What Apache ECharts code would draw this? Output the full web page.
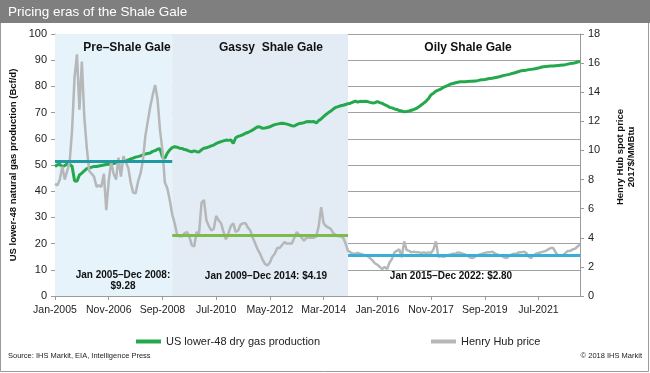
<!DOCTYPE html>
<html><head><meta charset="utf-8">
<script src="https://cdn.jsdelivr.net/npm/echarts@6/dist/echarts.min.js"></script>
<style>html,body{margin:0;padding:0;background:#fff}#c{width:650px;height:373px}</style>
</head><body><div id="c"></div>
<script>
const monthNames = ['Jan','Feb','Mar','Apr','May','Jun','Jul','Aug','Sep','Oct','Nov','Dec'];
const years = [2005,2006,2007,2008,2009,2010,2011,2012,2013,2014,2015,2016,2017,2018,2019,2020,2021,2022];
const categories = [];
years.forEach(y => monthNames.forEach(m => categories.push(m + '-' + y)));

// US lower-48 dry gas production, Bcf/d (monthly, Jan-2005 .. Dec-2022)
const production = [
  49.4,50.1,50.2,49.4,49.8,50.4,50.3,49.5,44.0,43.8,46.2,46.9,
  47.8,48.6,48.8,49.2,49.4,49.4,49.6,49.8,50.0,50.2,50.3,50.5,
  50.6,50.8,51.0,51.2,51.3,51.6,51.9,52.3,52.6,53.0,53.2,53.5,
  53.8,54.2,54.4,54.6,55.2,55.5,56.0,56.2,53.0,52.6,54.5,55.8,
  56.6,57.0,56.8,56.4,56.3,55.9,55.7,55.3,55.0,55.4,55.1,55.0,
  55.8,56.4,56.6,56.9,57.3,57.6,58.2,58.6,58.9,59.2,59.5,59.4,
  59.6,58.2,60.4,60.9,61.2,61.6,62.1,62.4,62.9,63.4,64.0,64.6,
  64.5,64.0,64.1,64.3,64.6,65.0,65.4,65.6,65.8,65.9,65.8,65.6,
  65.3,65.0,64.9,65.4,65.8,65.9,66.2,66.5,66.6,66.5,66.6,66.0,
  67.0,67.6,68.5,69.3,70.0,70.6,71.4,72.0,72.3,72.6,72.8,73.1,
  73.4,73.6,74.0,74.4,74.0,74.3,74.2,74.3,74.2,73.9,73.7,73.8,
  74.2,73.8,73.5,73.0,72.6,72.0,71.8,71.4,71.2,70.8,70.6,70.3,
  70.4,70.6,70.9,71.2,71.6,72.2,72.9,73.6,74.4,75.4,76.8,77.4,
  78.2,78.6,79.0,79.6,80.0,80.4,80.9,81.1,81.4,81.6,81.8,81.8,
  81.8,81.9,82.0,82.0,82.1,82.2,82.4,82.5,82.6,82.8,83.0,83.1,
  83.3,83.5,83.7,84.0,84.2,84.4,84.6,84.9,85.1,85.4,85.7,86.0,
  86.1,86.2,86.4,86.5,86.6,86.8,87.0,87.3,87.5,87.6,87.7,87.8,
  87.8,87.9,88.0,88.1,88.2,88.3,88.5,88.7,88.8,89.0,89.3,89.5
];

// Henry Hub spot price, 2017$/MMBtu
const henryHub = [
  7.7,7.6,8.0,8.9,8.0,8.6,9.2,11.4,15.0,16.6,12.8,16.1,
  12.3,10.2,8.6,8.4,8.2,7.5,7.6,7.5,8.4,5.9,7.9,9.2,
  8.4,8.0,9.5,8.2,9.6,9.2,8.8,7.8,7.1,7.05,7.85,8.4,
  9.3,11.0,12.0,13.0,13.8,14.5,13.5,11.4,10.0,7.8,7.4,6.6,
  5.6,5.0,4.2,4.1,4.1,4.3,4.4,4.1,3.5,3.4,4.4,4.3,
  6.4,6.6,5.2,4.8,4.5,4.6,5.5,5.2,5.0,4.4,3.9,4.3,
  4.8,5.0,4.4,4.5,4.9,5.0,5.0,4.7,4.5,4.0,3.6,3.2,
  2.9,2.5,2.2,2.1,2.3,2.7,2.9,3.3,3.3,3.5,3.7,3.6,
  3.6,3.6,4.0,4.4,4.2,4.0,3.8,4.0,4.0,4.0,4.0,4.1,
  4.8,6.1,5.0,4.8,4.7,4.6,4.3,4.2,4.1,4.1,4.0,3.6,
  3.1,3.0,2.9,2.9,2.95,2.9,2.85,2.8,2.75,2.6,2.45,2.25,
  2.15,2.0,1.85,2.0,1.85,2.3,2.55,3.0,3.1,3.2,2.65,3.75,
  3.15,3.1,3.0,3.05,3.0,3.0,2.95,3.0,2.95,3.0,2.95,3.2,
  3.75,2.7,2.75,2.7,2.75,2.8,2.85,2.9,2.9,3.0,2.95,2.9,
  2.85,2.75,2.65,2.6,2.7,2.8,2.85,2.9,2.95,3.0,3.0,3.05,
  2.95,2.85,2.8,2.75,2.65,2.6,2.75,2.85,2.9,2.9,3.0,3.0,
  3.05,2.95,2.7,2.6,2.8,2.9,2.95,3.0,3.05,3.1,3.2,3.3,
  3.3,3.0,2.8,2.8,2.8,2.95,3.1,3.1,3.2,3.25,3.4,3.55
];

const eraNames = ['Pre\u2013Shale Gale', 'Gassy  Shale Gale', 'Oily Shale Gale'];
const eraStart = ['Jan-2005', 'Jan-2009', 'Jan-2015'];
const eraEnd = ['Jan-2009', 'Jan-2015', 'Dec-2022'];
const eraAvgPrice = [9.28, 4.19, 2.80];
const eraAvgText = ['Jan 2005\u2013Dec 2008:\n$9.28', 'Jan 2009\u2013Dec 2014: $4.19', 'Jan 2015\u2013Dec 2022: $2.80'];
const leftTicks = {min: 0, max: 100, interval: 10};
const rightTicks = {min: 0, max: 18, interval: 2};

const FONT = '"Liberation Sans", Arial, sans-serif';
const eraFill = ['#e6f3fb', '#e3ebf4', 'rgba(0,0,0,0)'];
const avgColors = ['#1f9aa0', '#7dbb4c', '#3aaedb'];

const chart = echarts.init(document.getElementById('c'), null, {renderer: 'canvas'});

const option = {
  animation: false,
  backgroundColor: '#ffffff',
  textStyle: {fontFamily: FONT},
  grid: {left: 55, right: 70, top: 34, bottom: 77, containLabel: false},
  legend: [
    {left: 131, top: 331, icon: 'rect', itemWidth: 25, itemHeight: 4, itemGap: 4,
     textStyle: {fontFamily: FONT, fontSize: 11, color: '#222'}, data: ['US lower-48 dry gas production']},
    {left: 426, top: 331, icon: 'rect', itemWidth: 25, itemHeight: 4, itemGap: 4,
     textStyle: {fontFamily: FONT, fontSize: 11, color: '#222'}, data: ['Henry Hub price']}
  ],
  xAxis: {
    type: 'category', data: categories, boundaryGap: false,
    axisLine: {lineStyle: {color: '#9a9a9a'}},
    axisTick: {interval: 21, length: 4, lineStyle: {color: '#9a9a9a'}},
    axisLabel: {interval: 21, fontFamily: FONT, fontSize: 10.5, color: '#222', margin: 9},
    splitLine: {show: false}
  },
  yAxis: [
    {type: 'value', min: leftTicks.min, max: leftTicks.max, interval: leftTicks.interval,
     axisLine: {show: true, lineStyle: {color: '#9a9a9a'}},
     axisTick: {show: true, length: 4, lineStyle: {color: '#9a9a9a'}},
     axisLabel: {fontFamily: FONT, fontSize: 11, color: '#222', margin: 8},
     splitLine: {show: true, lineStyle: {color: '#a0a0a0', width: 1}}},
    {type: 'value', position: 'right', min: rightTicks.min, max: rightTicks.max, interval: rightTicks.interval,
     axisLine: {show: true, lineStyle: {color: '#9a9a9a'}},
     axisTick: {show: true, length: 4, lineStyle: {color: '#9a9a9a'}},
     axisLabel: {fontFamily: FONT, fontSize: 11, color: '#222', margin: 8},
     splitLine: {show: false}}
  ],
  series: [
    {
      name: 'eras', type: 'line', data: [], z: -5, silent: true,
      markArea: {
        silent: true,
        data: eraStart.map((s, i) => [{xAxis: s, itemStyle: {color: eraFill[i]}}, {xAxis: eraEnd[i]}])
      }
    },
    {
      name: 'US lower-48 dry gas production', type: 'line', yAxisIndex: 0, data: production,
      showSymbol: false, symbol: 'none', color: '#24a84c',
      lineStyle: {width: 3, color: '#24a84c'}, z: 3
    },
    {
      name: 'Henry Hub price', type: 'line', yAxisIndex: 1, data: henryHub,
      showSymbol: false, symbol: 'none', color: '#b5b7b9',
      lineStyle: {width: 2.5, color: '#b5b7b9'}, z: 4,
      markLine: {
        silent: true, symbol: 'none', label: {show: false},
        data: eraAvgPrice.map((v, i) => [
          {coord: [eraStart[i], v], lineStyle: {color: avgColors[i], width: 3, type: 'solid'}},
          {coord: [eraEnd[i], v]}
        ])
      }
    }
  ],
  graphic: [
    {type: 'rect', shape: {x: 0.5, y: 0.5, width: 648, height: 371}, style: {fill: 'none', stroke: '#9a9a9a', lineWidth: 1}, z: 100},
    {type: 'rect', shape: {x: 0, y: 0, width: 650, height: 23}, style: {fill: '#7f7f7f'}, z: 101},
    {type: 'text', x: 8, y: 12, style: {text: 'Pricing eras of the Shale Gale', fill: '#ffffff', font: '13.5px ' + FONT, textVerticalAlign: 'middle'}, z: 102},
    {type: 'text', x: 127, y: 48, style: {text: eraNames[0], fill: '#111', font: 'bold 12px ' + FONT, textAlign: 'center', textVerticalAlign: 'middle'}, z: 50},
    {type: 'text', x: 271, y: 48, style: {text: eraNames[1], fill: '#111', font: 'bold 12px ' + FONT, textAlign: 'center', textVerticalAlign: 'middle'}, z: 50},
    {type: 'text', x: 468, y: 48, style: {text: eraNames[2], fill: '#111', font: 'bold 12px ' + FONT, textAlign: 'center', textVerticalAlign: 'middle'}, z: 50},
    {type: 'text', x: 123, y: 281, style: {text: eraAvgText[0], fill: '#111', font: 'bold 10px ' + FONT, textAlign: 'center', textVerticalAlign: 'middle', lineHeight: 11}, z: 50},
    {type: 'text', x: 266, y: 276, style: {text: eraAvgText[1], fill: '#111', font: 'bold 10px ' + FONT, textAlign: 'center', textVerticalAlign: 'middle'}, z: 50},
    {type: 'text', x: 451, y: 276, style: {text: eraAvgText[2], fill: '#111', font: 'bold 10px ' + FONT, textAlign: 'center', textVerticalAlign: 'middle'}, z: 50},
    {type: 'text', x: 13, y: 165, rotation: Math.PI / 2, style: {text: 'US lower-48 natural gas production (Bcf/d)', fill: '#111', font: 'bold 9.5px ' + FONT, textAlign: 'center', textVerticalAlign: 'middle'}, z: 50},
    {type: 'text', x: 626, y: 157, rotation: Math.PI / 2, style: {text: 'Henry Hub spot price\n2017$/MMBtu', fill: '#111', font: 'bold 9.5px ' + FONT, textAlign: 'center', textVerticalAlign: 'middle', lineHeight: 11}, z: 50},
    {type: 'text', x: 8, y: 356, style: {text: 'Source: IHS Markit, EIA, Intelligence Press', fill: '#222', font: '7.5px ' + FONT, textVerticalAlign: 'middle'}, z: 50},
    {type: 'text', x: 642, y: 356, style: {text: '\u00a9 2018 IHS Markit', fill: '#222', font: '7.5px ' + FONT, textAlign: 'right', textVerticalAlign: 'middle'}, z: 50}
  ]
};
chart.setOption(option);
</script>
</body></html>
